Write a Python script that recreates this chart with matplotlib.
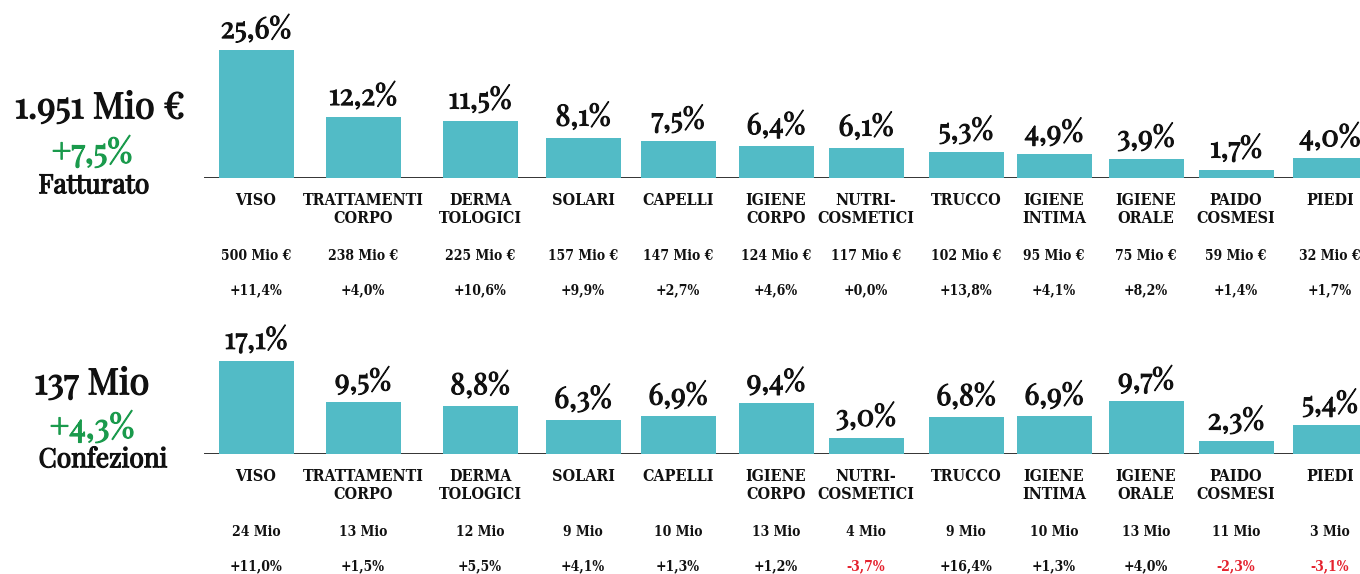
import matplotlib
matplotlib.use("Agg")
import matplotlib.pyplot as plt
import matplotlib.patheffects as pe

# categories (two-line labels)
categorie = ["VISO", "TRATTAMENTI\nCORPO", "DERMA\nTOLOGICI", "SOLARI", "CAPELLI",
             "IGIENE\nCORPO", "NUTRI-\nCOSMETICI", "TRUCCO", "IGIENE\nINTIMA",
             "IGIENE\nORALE", "PAIDO\nCOSMESI", "PIEDI"]

# fatturato
quota_fatt = [25.6, 12.2, 11.5, 8.1, 7.5, 6.4, 6.1, 5.3, 4.9, 3.9, 1.7, 4.0]
mio_fatt = [500, 238, 225, 157, 147, 124, 117, 102, 95, 75, 59, 32]
var_fatt = [11.4, 4.0, 10.6, 9.9, 2.7, 4.6, 0.0, 13.8, 4.1, 8.2, 1.4, 1.7]

# confezioni
quota_conf = [17.1, 9.5, 8.8, 6.3, 6.9, 9.4, 3.0, 6.8, 6.9, 9.7, 2.3, 5.4]
mio_conf = [24, 13, 12, 9, 10, 13, 4, 9, 10, 13, 11, 3]
var_conf = [11.0, 1.5, 5.5, 4.1, 1.3, 1.2, -3.7, 16.4, 1.3, 4.0, -2.3, -3.1]

# layout (bar centres in pixel units)
xpos = [256, 363, 480, 583, 678, 776, 866, 966, 1054, 1146, 1236, 1330]

TEAL = "#52bbc6"
GREEN = "#1a9a4c"
RED = "#e5232f"
INK = "#111111"
SERIF = ["Playfair Display", "DejaVu Serif"]
COND = ["DejaVu Serif"]


def bold(c, w=0.8):
    # playfair only comes in regular here, thicken it a bit
    return [pe.withStroke(linewidth=w, foreground=c)]


def fmt(v, plus=True):
    s = f"{v:+.1f}" if plus else f"{v:.1f}"
    return s.replace(".", ",") + "%"


fig = plt.figure(figsize=(13.6, 5.74), dpi=100)


def riga(rect, ytop, quote, mio, var, unit):
    ax = fig.add_axes(rect)
    ax.set_xlim(0, 1360)
    ax.set_ylim(0, ytop)
    ax.axis("off")
    ax.axhline(0, xmin=205 / 1360, xmax=1, color="#333333", lw=1.4, zorder=1)
    ax.bar(xpos, quote, width=75, color=TEAL, zorder=2)
    for x, q, c, m, v in zip(xpos, quote, categorie, mio, var):
        ax.annotate(fmt(q, False), (x, q), xytext=(0, 5), textcoords="offset points",
                    ha="center", va="bottom", fontsize=21, color=INK,
                    family=SERIF, path_effects=bold(INK, 0.8), annotation_clip=False)
        ax.annotate(c, (x, 0), xytext=(0, -10), textcoords="offset points",
                    ha="center", va="top", fontsize=11.5, fontweight="bold", color=INK,
                    fontstretch="condensed", family=COND, linespacing=1.1,
                    annotation_clip=False)
        ax.annotate(f"{m} {unit}", (x, 0), xytext=(0, -56), textcoords="offset points",
                    ha="center", va="center", fontsize=10, fontweight="bold", color=INK,
                    fontstretch="condensed", family=COND, annotation_clip=False)
        col = RED if v < 0 else INK
        ax.annotate(fmt(v), (x, 0), xytext=(0, -81), textcoords="offset points",
                    ha="center", va="center", fontsize=10, fontweight="bold",
                    fontstretch="condensed", family=COND,
                    color=col, annotation_clip=False)
    return ax


riga([0, 396 / 574, 1, 178 / 574], 178 / 5.0, quota_fatt, mio_fatt, var_fatt, "Mio €")
riga([0, 120 / 574, 1, 154 / 574], 154 / 5.45, quota_conf, mio_conf, var_conf, "Mio")

# left summaries
fig.text(100 / 1360, 1 - 107 / 574, "1.951 Mio €", ha="center", va="center",
         fontsize=26, family=SERIF, color=INK, path_effects=bold(INK, 1.0))
fig.text(92 / 1360, 1 - 152 / 574, "+7,5%", ha="center", va="center",
         fontsize=24, family=SERIF, color=GREEN, path_effects=bold(GREEN, 0.9))
fig.text(94 / 1360, 1 - 185 / 574, "Fatturato", ha="center", va="center",
         fontsize=19, family=SERIF, color=INK, path_effects=bold(INK, 0.9))

fig.text(92 / 1360, 1 - 383 / 574, "137 Mio", ha="center", va="center",
         fontsize=26, family=SERIF, color=INK, path_effects=bold(INK, 1.0))
fig.text(92 / 1360, 1 - 427 / 574, "+4,3%", ha="center", va="center",
         fontsize=24, family=SERIF, color=GREEN, path_effects=bold(GREEN, 0.9))
fig.text(103 / 1360, 1 - 459 / 574, "Confezioni", ha="center", va="center",
         fontsize=19, family=SERIF, color=INK, path_effects=bold(INK, 0.9))

fig.savefig("out.png", dpi=100)
